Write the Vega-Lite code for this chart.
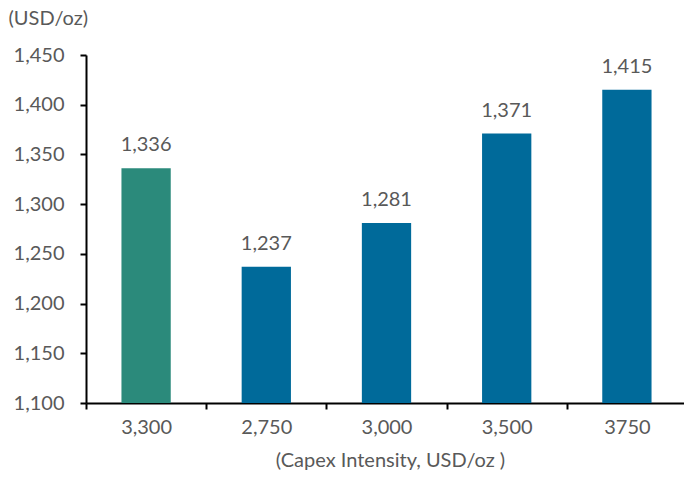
{
  "$schema": "https://vega.github.io/schema/vega-lite/v6.json",
  "width": 598,
  "height": 348,
  "autosize": "none",
  "padding": {"left": 86, "top": 55, "right": 0, "bottom": 74},
  "background": "white",
  "config": {"view": {"stroke": null}, "font": "Lato"},
  "data": {"values": [
    {"capex": "3,300", "price": 1336, "group": "base"},
    {"capex": "2,750", "price": 1237, "group": "alt"},
    {"capex": "3,000", "price": 1281, "group": "alt"},
    {"capex": "3,500", "price": 1371, "group": "alt"},
    {"capex": "3750", "price": 1415, "group": "alt"}
  ]},
  "encoding": {
    "x": {"field": "capex", "type": "nominal", "sort": null,
      "scale": {"paddingInner": 0, "paddingOuter": 0, "range": [0, 601]},
      "axis": {"title": "(Capex Intensity, USD/oz )", "labelAngle": 0, "labelFont": "Lato", "labelFontSize": 20, "labelColor": "#595959",
        "titleFont": "Lato", "titleFontSize": 20, "titleFontWeight": "normal", "titleColor": "#595959", "titlePadding": 13, "titleX": 304,
        "domainColor": "black", "domainWidth": 2, "tickColor": "black", "tickWidth": 2, "tickSize": 6, "tickBand": "extent", "labelPadding": 8}},
    "y": {"field": "price", "type": "quantitative",
      "scale": {"domain": [1100, 1450], "zero": false, "nice": false},
      "axis": {"title": "(USD/oz)", "titleAngle": 0, "titleAlign": "left", "titleBaseline": "alphabetic", "titleX": -78, "titleY": -31,
        "titleFont": "Lato", "titleFontSize": 20, "titleFontWeight": "normal", "titleColor": "#595959",
        "values": [1100, 1150, 1200, 1250, 1300, 1350, 1400, 1450], "format": ",d",
        "labelFont": "Lato", "labelFontSize": 20, "labelColor": "#595959", "labelPadding": 16,
        "grid": false, "domainColor": "black", "domainWidth": 2, "tickColor": "black", "tickWidth": 2, "tickSize": 6}}
  },
  "layer": [
    {"mark": {"type": "bar", "clip": true, "width": {"band": 0.41}},
      "encoding": {"color": {"field": "group", "type": "nominal", "legend": null,
        "scale": {"domain": ["base", "alt"], "range": ["#2B8A7B", "#006A9A"]}}}},
    {"mark": {"type": "text", "dy": -17, "font": "Lato", "fontSize": 20, "color": "#595959", "baseline": "alphabetic"},
      "encoding": {"text": {"field": "price", "type": "quantitative", "format": ",d"}}}
  ]
}
